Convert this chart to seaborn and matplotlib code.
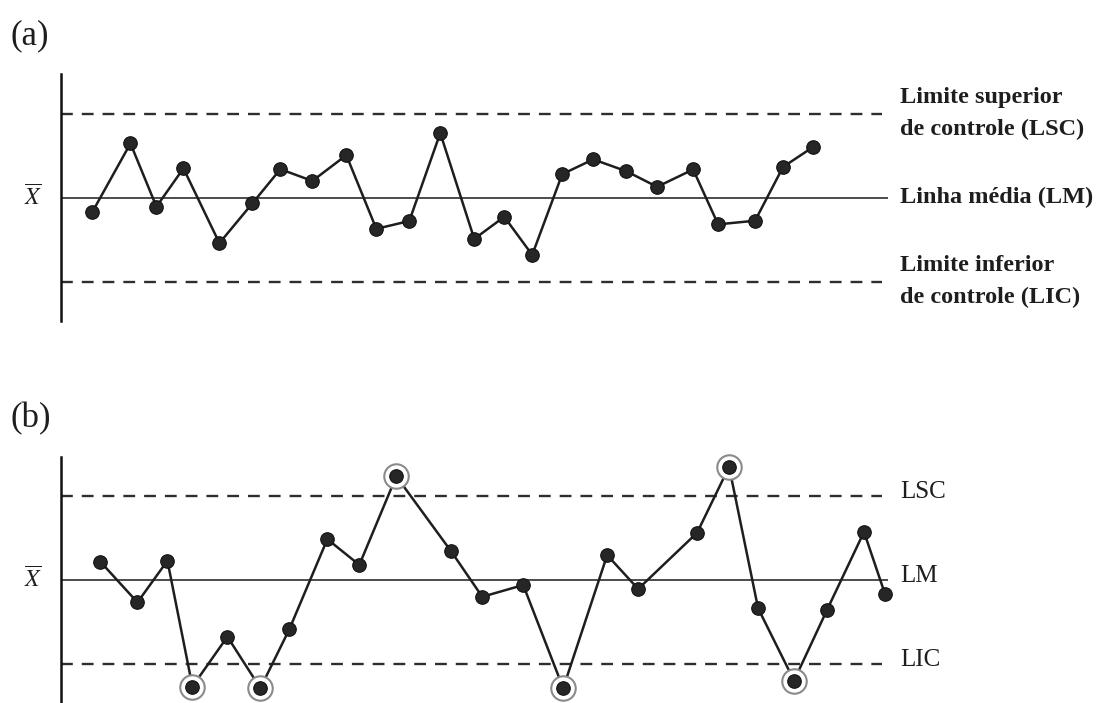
import numpy as np
import pandas as pd
import seaborn as sns
import matplotlib.pyplot as plt
from matplotlib import transforms

W, H, DPI = 1101, 703, 100

# (a) process in statistical control: sample position and sample mean (in sigma units)
pos_a = [32, 70, 96, 123, 159, 192, 220, 252, 286, 316, 349, 380,
         414, 444, 472, 502, 533, 566, 597, 633, 658, 695, 723, 753]
xbar_a = [-0.50, 1.94, -0.32, 1.05, -1.62, -0.20, 1.02, 0.60, 1.52, -1.11, -0.83, 2.31,
          -1.47, -0.68, -2.04, 0.84, 1.37, 0.95, 0.39, 1.01, -0.95, -0.82, 1.10, 1.81]

# (b) process out of control
pos_b = [40, 77, 107, 132, 167, 200, 229, 267, 299, 336, 391, 422,
         463, 503, 547, 578, 637, 669, 698, 734, 767, 804, 825]
xbar_b = [0.65, -0.80, 0.69, -3.81, -2.03, -3.87, -1.76, 1.46, 0.54, 3.71, 1.02, -0.60,
          -0.18, -3.87, 0.89, -0.32, 1.69, 4.05, -1.01, -3.60, -1.07, 1.72, -0.50]

center_line = 0.0
upper_limit = 3.0
lower_limit = -3.0

labels_a = ["Limite superior\nde controle (LSC)", "Linha média (LM)",
            "Limite inferior\nde controle (LIC)"]
labels_b = ["LSC", "LM", "LIC"]
panel_tags = ["(a)", "(b)"]

sns.set_theme(style="white")
plt.rcParams["font.family"] = ["Liberation Serif", "DejaVu Serif"]
plt.rcParams["mathtext.fontset"] = "stix"

fig = plt.figure(figsize=(W / DPI, H / DPI), dpi=DPI)
fig.patch.set_facecolor("white")


def rect(left, top, right, bottom):
    return [left / W, 1 - bottom / H, (right - left) / W, (bottom - top) / H]


ax_a = fig.add_axes(rect(60.5, 74.5, 888, 321))
ax_b = fig.add_axes(rect(60.5, 457, 888, 703))

INK = "#1e1e1e"


def draw_chart(ax, pos, vals):
    ax.set_xlim(0, 828)
    ax.set_ylim(-4.4, 4.4)
    ax.plot([0, 828], [center_line, center_line], color="#2e2e2e", lw=1.2, zorder=1)
    for lim in (upper_limit, lower_limit):
        ax.plot([0, 821.7], [lim, lim], color="#2e2e2e", lw=1.7,
                ls=(0, (5, 3.8)), zorder=1)
    df = pd.DataFrame({"pos": pos, "val": vals})
    sns.lineplot(data=df, x="pos", y="val", ax=ax, color=INK, lw=1.8,
                 sort=False, clip_on=False, zorder=2)
    out = df[(df.val > upper_limit) | (df.val < lower_limit)]
    if len(out):
        sns.scatterplot(data=out, x="pos", y="val", ax=ax, s=310, color="white",
                        edgecolor="#8a8a8a", linewidth=1.5, clip_on=False, zorder=3)
    sns.scatterplot(data=df, x="pos", y="val", ax=ax, s=95, color="#262626",
                    edgecolor="#111111", linewidth=0.8, clip_on=False, zorder=4)
    for side in ("top", "right", "bottom"):
        ax.spines[side].set_visible(False)
    ax.spines["left"].set_color("#111111")
    ax.spines["left"].set_linewidth(1.8)
    ax.set_xticks([])
    ax.set_yticks([])
    ax.set_xlabel("")
    ax.set_ylabel("")
    ax.set_facecolor("none")


draw_chart(ax_a, pos_a, xbar_a)
draw_chart(ax_b, pos_b, xbar_b)

levels = [upper_limit, center_line, lower_limit]

tr_a = transforms.blended_transform_factory(fig.transFigure, ax_a.transData)
for lvl, txt in zip(levels, labels_a):
    fig.text(900 / W, lvl, txt, transform=tr_a, ha="left", va="center",
             fontsize=17.5, fontweight="bold", color=INK, linespacing=1.7)

tr_b = transforms.blended_transform_factory(fig.transFigure, ax_b.transData)
for lvl, txt in zip(levels, labels_b):
    fig.text(900 / W, lvl + 0.15, txt, transform=tr_b, ha="left", va="center",
             fontsize=18, color=INK)

for ax, tr in ((ax_a, tr_a), (ax_b, tr_b)):
    fig.text(33 / W, center_line, r"$\overline{X}$", transform=tr, ha="center",
             va="center", fontsize=17, color=INK)

fig.text(10 / W, 1 - 36 / H, panel_tags[0], ha="left", va="center",
         fontsize=25, color=INK)
fig.text(10 / W, 1 - 419 / H, panel_tags[1], ha="left", va="center",
         fontsize=25, color=INK)

fig.savefig("out.png", dpi=DPI, facecolor="white")
